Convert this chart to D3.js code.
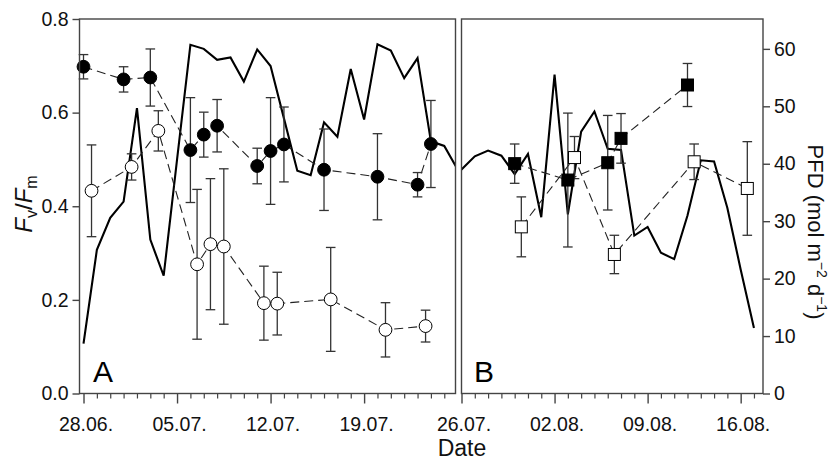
<!DOCTYPE html>
<html>
<head>
<meta charset="utf-8">
<script src="https://cdn.jsdelivr.net/npm/d3@7"></script>
<style>
  html, body { margin: 0; padding: 0; background: #fff; }
  svg { display: block; font-family: "Liberation Sans", Arial, sans-serif; }
</style>
</head>
<body>
<svg id="chart" width="830" height="462"></svg>
<script>
// ---- data (days counted from 28 June) ----
const majorTickDays = [0, 7, 14, 21, 28, 35, 42, 49];
const majorTickLabels = ["28.06.", "05.07.", "12.07.", "19.07.", "26.07.", "02.08.", "09.08.", "16.08."];
const fvTicks = [0, 0.2, 0.4, 0.6, 0.8];
const pfdTicks = [0, 10, 20, 30, 40, 50, 60];

// PFD daily values, day 0 .. day 50
const pfdDays = d3.range(0, 51);
const pfdValues = [8.7, 25.0, 30.6, 33.4, 49.7, 26.8, 20.5, 40.7, 60.7, 60.0,
  58.1, 58.5, 54.3, 59.9, 57.0, 47.9, 38.8, 38.0, 47.2, 44.7,
  56.5, 47.7, 60.8, 59.7, 54.9, 58.4, 43.9, 43.1, 39.0, 41.3,
  42.3, 41.4, 38.2, 41.7, 30.7, 55.5, 31.2, 45.6, 49.1, 42.6,
  42.4, 27.5, 29.0, 24.5, 23.4, 31.0, 40.6, 40.4, 32.3, 21.6, 11.4];

// Panel A
const aFilledDays = [0, 3, 5, 8, 9, 10, 13, 14, 15, 18, 22, 25, 26];
const aFilledVals = [0.698, 0.671, 0.675, 0.520, 0.553, 0.572, 0.486, 0.518, 0.532, 0.478, 0.463, 0.446, 0.533];
const aFilledErr  = [0.026, 0.027, 0.061, 0.112, 0.048, 0.056, 0.038, 0.114, 0.080, 0.087, 0.092, 0.026, 0.093];
const aOpenDays = [0.6, 3.6, 5.6, 8.5, 9.5, 10.5, 13.5, 14.5, 18.5, 22.6, 25.6];
const aOpenVals = [0.433, 0.484, 0.561, 0.276, 0.319, 0.314, 0.193, 0.192, 0.201, 0.136, 0.144];
const aOpenErr  = [0.098, 0.028, 0.043, 0.160, 0.140, 0.166, 0.079, 0.067, 0.111, 0.058, 0.034];

// Panel B
const bFilledDays = [32, 36, 39, 40, 45];
const bFilledVals = [0.491, 0.456, 0.493, 0.545, 0.659];
const bFilledErr  = [0.042, 0.143, 0.101, 0.053, 0.046];
const bOpenDays = [32.5, 36.5, 39.5, 45.5, 49.5];
const bOpenVals = [0.356, 0.504, 0.297, 0.495, 0.438];
const bOpenErr  = [0.064, 0.045, 0.041, 0.038, 0.100];

// ---- layout ----
const svg = d3.select("#chart");
const TOP = 19, BOT = 393.5;
const FONT = 19.5;
const frameColor = "#444";

const yL = d3.scaleLinear().domain([0, 0.8]).range([BOT, TOP]);
const yR = d3.scaleLinear().domain([0, 65.2]).range([BOT, TOP]);
const xA = d3.scaleLinear().domain([-0.3, 27.84]).range([79.5, 455.5]);
const xB = d3.scaleLinear().domain([28, 50.68]).range([461.5, 763]);

const panels = [
  { id: "A", x: xA, dmin: 0, dmax: 27, letterX: 93,
    series: [
      { days: aOpenDays, vals: aOpenVals, err: aOpenErr, shape: "circle", fill: "#fff" },
      { days: aFilledDays, vals: aFilledVals, err: aFilledErr, shape: "circle", fill: "#000" }
    ] },
  { id: "B", x: xB, dmin: 28, dmax: 50, letterX: 474,
    series: [
      { days: bOpenDays, vals: bOpenVals, err: bOpenErr, shape: "square", fill: "#fff" },
      { days: bFilledDays, vals: bFilledVals, err: bFilledErr, shape: "square", fill: "#000" }
    ] }
];

const defs = svg.append("defs");

panels.forEach(p => {
  const [x0, x1] = p.x.range();
  defs.append("clipPath").attr("id", "clip" + p.id)
    .append("rect").attr("x", x0).attr("y", TOP).attr("width", x1 - x0).attr("height", BOT - TOP);

  const g = svg.append("g");

  // minor ticks (daily)
  const minor = d3.range(p.dmin, p.dmax + 1).filter(d => majorTickDays.indexOf(d) < 0);
  const minorAxis = d3.axisBottom(p.x).tickValues(minor).tickSize(5).tickFormat("");
  const gm = g.append("g").attr("transform", `translate(0,${BOT})`).call(minorAxis);
  gm.select(".domain").remove();
  gm.selectAll("line").attr("stroke", frameColor).attr("stroke-width", 1.2);

  // major ticks
  const majors = majorTickDays.filter(d => d >= p.dmin && d <= p.dmax + 0.5);
  const majorAxis = d3.axisBottom(p.x).tickValues(majors).tickSize(10).tickPadding(8)
    .tickFormat(d => majorTickLabels[majorTickDays.indexOf(d)]);
  const gM = g.append("g").attr("transform", `translate(0,${BOT})`).call(majorAxis);
  gM.select(".domain").remove();
  gM.selectAll("line").attr("stroke", frameColor).attr("stroke-width", 1.4);
  gM.selectAll("text").attr("font-size", FONT).attr("fill", "#111")
    .attr("font-family", '"Liberation Sans", Arial, sans-serif')
    .attr("dx", 2).attr("dy", "1.0em");

  // PFD line
  const line = d3.line().x((d, i) => p.x(pfdDays[i])).y(d => yR(d));
  g.append("path").datum(pfdValues)
    .attr("clip-path", `url(#clip${p.id})`)
    .attr("d", line)
    .attr("fill", "none").attr("stroke", "#000").attr("stroke-width", 2.1)
    .attr("stroke-linejoin", "miter");

  // dashed connectors
  p.series.forEach(s => {
    const l = d3.line().x((d, i) => p.x(s.days[i])).y(d => yL(d));
    g.append("path").datum(s.vals).attr("d", l)
      .attr("fill", "none").attr("stroke", "#222").attr("stroke-width", 1.1)
      .attr("stroke-dasharray", "9,5");
  });

  // error bars
  p.series.forEach(s => {
    s.vals.forEach((v, i) => {
      const cx = p.x(s.days[i]);
      const yt = yL(v + s.err[i]), yb = yL(v - s.err[i]);
      g.append("line").attr("x1", cx).attr("x2", cx).attr("y1", yt).attr("y2", yb)
        .attr("stroke", "#333").attr("stroke-width", 1.3);
      [yt, yb].forEach(yy => g.append("line")
        .attr("x1", cx - 4.8).attr("x2", cx + 4.8).attr("y1", yy).attr("y2", yy)
        .attr("stroke", "#333").attr("stroke-width", 1.3));
    });
  });

  // markers
  p.series.forEach(s => {
    s.vals.forEach((v, i) => {
      const cx = p.x(s.days[i]), cy = yL(v);
      if (s.shape === "circle") {
        g.append("circle").attr("cx", cx).attr("cy", cy).attr("r", 6.4)
          .attr("fill", s.fill).attr("stroke", "#000").attr("stroke-width", 1);
      } else {
        g.append("rect").attr("x", cx - 6).attr("y", cy - 6).attr("width", 12).attr("height", 12)
          .attr("fill", s.fill).attr("stroke", "#000").attr("stroke-width", 1);
      }
    });
  });

  // frame
  g.append("rect").attr("x", x0).attr("y", TOP).attr("width", x1 - x0).attr("height", BOT - TOP)
    .attr("fill", "none").attr("stroke", frameColor).attr("stroke-width", 1.4);

  // panel letter
  g.append("text").attr("x", p.letterX).attr("y", 382).text(p.id)
    .attr("font-size", 30).attr("fill", "#000");
});

// left axis
const gl = svg.append("g").attr("transform", `translate(79.5,0)`)
  .call(d3.axisLeft(yL).tickValues(fvTicks).tickFormat(d3.format(".1f")).tickSize(7).tickPadding(4));
gl.select(".domain").remove();
gl.selectAll("line").attr("stroke", frameColor).attr("stroke-width", 1.4);
gl.selectAll("text").attr("font-size", FONT).attr("fill", "#111")
  .attr("font-family", '"Liberation Sans", Arial, sans-serif');

// right axis
const gr = svg.append("g").attr("transform", `translate(763,0)`)
  .call(d3.axisRight(yR).tickValues(pfdTicks).tickSize(7).tickPadding(4));
gr.select(".domain").remove();
gr.selectAll("line").attr("stroke", frameColor).attr("stroke-width", 1.4);
gr.selectAll("text").attr("font-size", FONT).attr("fill", "#111")
  .attr("font-family", '"Liberation Sans", Arial, sans-serif');

// axis titles
svg.append("text").attr("x", 462).attr("y", 456).attr("text-anchor", "middle")
  .attr("font-size", 23).attr("fill", "#111").text("Date");

const fv = svg.append("text").attr("transform", "translate(32,204) rotate(-90)")
  .attr("text-anchor", "middle").attr("font-size", 24).attr("fill", "#111");
fv.append("tspan").attr("font-style", "italic").text("F");
fv.append("tspan").attr("font-size", 16).attr("dy", 5).text("v");
fv.append("tspan").attr("dy", -5).text("/");
fv.append("tspan").attr("font-style", "italic").text("F");
fv.append("tspan").attr("font-size", 16).attr("dy", 5).text("m");

const pfd = svg.append("text").attr("transform", "translate(808,232) rotate(90)")
  .attr("text-anchor", "middle").attr("font-size", 22).attr("fill", "#111");
pfd.append("tspan").text("PFD (mol m");
pfd.append("tspan").attr("font-size", 14).attr("dy", -9).text("−2");
pfd.append("tspan").attr("dy", 9).text(" d");
pfd.append("tspan").attr("font-size", 14).attr("dy", -9).text("−1");
pfd.append("tspan").attr("dy", 9).text(")");
</script>
</body>
</html>
